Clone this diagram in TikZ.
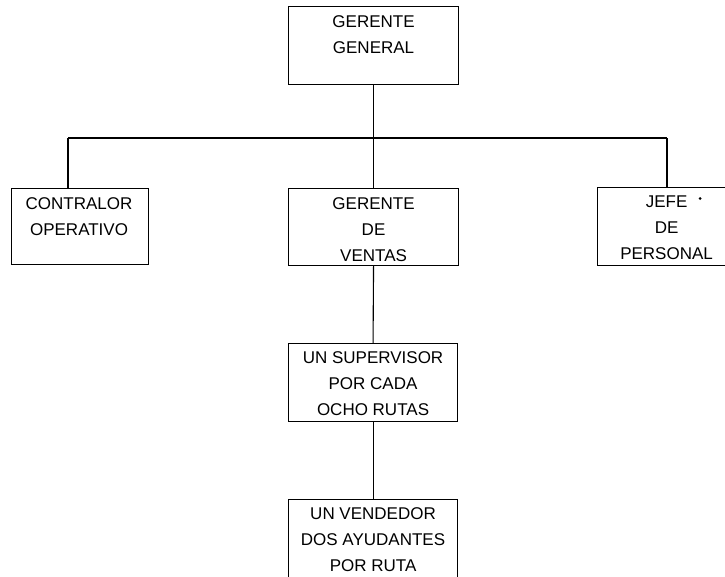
\documentclass[tikz,border=0pt]{standalone}
\usepackage{fontspec}
\setmainfont{Liberation Sans}
\begin{document}
\begin{tikzpicture}[x=1pt,y=-1pt,
  box/.style={draw, line width=1.1pt, rectangle, inner sep=0pt, anchor=north west},
  txt/.style={anchor=north, inner sep=0pt, align=center, font=\fontsize{17}{26}\selectfont},
  conn/.style={line width=1.1pt}]
\useasboundingbox (0,0) rectangle (725,576);
% boxes
\node[box, minimum width=170pt, minimum height=78pt] (gg) at (288,6) {};
\node[box, minimum width=137pt, minimum height=76pt] (co) at (11,188) {};
\node[box, minimum width=170pt, minimum height=77pt] (gv) at (288,188) {};
\node[box, minimum width=130pt, minimum height=78pt] (jp) at (597,187) {};
\node[box, minimum width=169pt, minimum height=78pt] (su) at (288,343) {};
\node[box, minimum width=169pt, minimum height=90pt] (ve) at (288,499) {};
% texts
\node[txt] (tgg) at ([yshift=-9pt]gg.north) {GERENTE\\GENERAL};
\node[txt] (tco) at ([xshift=-1pt,yshift=-9pt]co.north) {CONTRALOR\\OPERATIVO};
\node[txt] (tgv) at ([yshift=-9pt]gv.north) {GERENTE\\DE\\VENTAS};
\node[txt] (tjp) at ([xshift=4pt,yshift=-9pt]jp.north) {JEFE\hspace{14pt}\\DE\\PERSONAL};
\node[txt] (tsu) at ([yshift=-8pt]su.north) {UN SUPERVISOR\\POR CADA\\OCHO RUTAS};
\node[txt] (tve) at ([yshift=-8pt]ve.north) {UN VENDEDOR\\DOS AYUDANTES\\POR RUTA};
\fill (700,198.5) circle (1.5pt);
% connectors
\coordinate (busL) at (68,138);
\coordinate (busR) at (667,138);
\coordinate (busC) at (gg.south |- busL);
\draw[conn] (gg.south) -- (busC);
\draw[conn] (busL) -- (busR);
\draw[conn] (busL) -- (busL |- co.north);
\draw[conn] (busR) -- (busR |- jp.north);
\draw[conn] (busC) -- (gv.north);
\draw[conn] (gv.south) -- (su.north);
\draw[conn] (su.south) -- (ve.north);
\end{tikzpicture}
\end{document}
